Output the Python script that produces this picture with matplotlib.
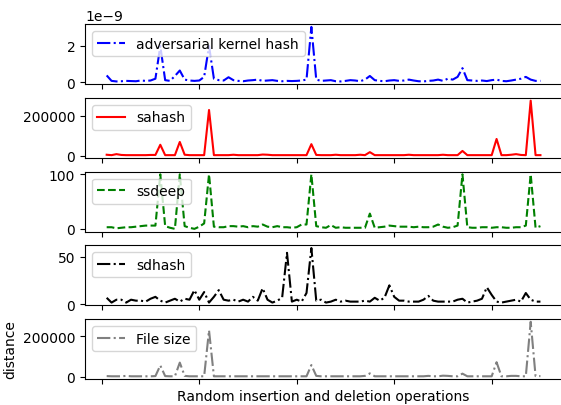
import numpy as np
import matplotlib
matplotlib.use("Agg")
import matplotlib.pyplot as plt

# operation index
ops = np.arange(1, 91)

# adversarial kernel hash distance
akh = np.array([0.38, 0.08, 0.05, 0.06, 0.08, 0.07, 0.06, 0.10, 0.08, 0.10,
                0.20, 2.00, 0.12, 0.08, 0.35, 0.65, 0.15, 0.10, 0.08, 0.10,
                0.30, 2.00, 0.20, 0.12, 0.10, 0.28, 0.12, 0.08, 0.06, 0.10,
                0.12, 0.15, 0.08, 0.10, 0.12, 0.08, 0.06, 0.08, 0.07, 0.08,
                0.10, 0.15, 3.05, 0.15, 0.08, 0.10, 0.12, 0.06, 0.05, 0.08,
                0.12, 0.10, 0.06, 0.15, 0.35, 0.12, 0.08, 0.06, 0.10, 0.12,
                0.08, 0.10, 0.15, 0.10, 0.06, 0.05, 0.08, 0.10, 0.15, 0.08,
                0.20, 0.15, 0.30, 0.78, 0.12, 0.10, 0.08, 0.10, 0.07, 0.12,
                0.15, 0.08, 0.06, 0.10, 0.15, 0.20, 0.30, 0.15, 0.08, 0.08]) * 1e-9

sahash = np.array([5000, 3000, 8000, 4000, 3000, 3000, 3000, 3000, 3000, 4000,
                   4000, 55000, 3000, 3000, 3000, 69000, 5000, 3000, 3000, 3000,
                   3000, 229000, 3000, 3000, 3000, 3000, 5000, 3000, 3000, 3000,
                   3000, 3000, 6000, 5000, 3000, 3000, 3000, 3000, 3000, 3000,
                   3000, 3000, 58000, 4000, 3000, 3000, 3000, 5000, 3000, 3000,
                   3000, 3000, 5000, 3000, 18000, 3000, 3000, 3000, 3000, 3000,
                   3000, 3000, 5000, 3000, 3000, 3000, 3000, 3000, 3000, 5000,
                   3000, 3000, 3000, 24000, 3000, 3000, 3000, 3000, 3000, 3000,
                   84000, 3000, 3000, 5000, 8000, 4000, 3000, 276000, 3000, 3000])

ssdeep = np.array([3, 3, 1, 2, 3, 3, 4, 5, 6, 6,
                   6, 100, 5, 2, 0, 100, 5, 2, 0, 4,
                   10, 100, 4, 3, 3, 5, 5, 4, 5, 3,
                   5, 4, 8, 4, 3, 5, 3, 3, 2, 3,
                   8, 8, 100, 5, 3, 2, 7, 2, 3, 2,
                   2, 2, 2, 2, 28, 2, 3, 4, 6, 5,
                   4, 4, 4, 3, 4, 3, 3, 4, 8, 4,
                   2, 3, 6, 100, 3, 2, 2, 3, 3, 2,
                   3, 3, 2, 2, 3, 3, 6, 100, 2, 5])

sdhash = np.array([7, 2, 5, 5, 2, 5, 4, 4, 3, 6,
                   8, 4, 2, 4, 6, 3, 6, 5, 15, 5,
                   13, 2, 8, 15, 5, 4, 5, 3, 5, 3,
                   8, 4, 17, 5, 2, 4, 7, 54, 3, 5,
                   3, 12, 59, 4, 5, 2, 3, 5, 3, 4,
                   3, 3, 3, 4, 3, 7, 4, 7, 20, 8,
                   4, 4, 3, 3, 3, 5, 9, 4, 3, 3,
                   3, 3, 5, 6, 2, 3, 4, 6, 18, 10,
                   3, 2, 3, 4, 5, 3, 12, 5, 3, 3])

filesize = np.array([4000, 3000, 3000, 3000, 5000, 3000, 3000, 3000, 3000, 3000,
                     4000, 56000, 4000, 3000, 3000, 70000, 5000, 3000, 3000, 3000,
                     3000, 228000, 3000, 3000, 3000, 3000, 3000, 3000, 3000, 3000,
                     3000, 3000, 3000, 3000, 3000, 3000, 3000, 3000, 3000, 3000,
                     3000, 3000, 58000, 5000, 3000, 3000, 3000, 3000, 3000, 3000,
                     3000, 3000, 3000, 5000, 17000, 3000, 3000, 3000, 3000, 3000,
                     3000, 3000, 3000, 3000, 3000, 3000, 5000, 3000, 3000, 6000,
                     5000, 3000, 3000, 16000, 3000, 3000, 3000, 3000, 3000, 3000,
                     72000, 3000, 3000, 5000, 5000, 3000, 3000, 270000, 4000, 4000])

series = [
    (akh, "b", "-.", "adversarial kernel hash"),
    (sahash, "r", "-", "sahash"),
    (ssdeep, "g", "--", "ssdeep"),
    (sdhash, "k", "-.", "sdhash"),
    (filesize, "grey", "-.", "File size"),
]

fig, axes = plt.subplots(5, 1, sharex=True, figsize=(5.61, 4.06), dpi=100)
fig.subplots_adjust(left=0.1515, right=1.002, top=0.938, bottom=0.064, hspace=0.229)

for ax, (vals, col, ls, name) in zip(axes, series):
    ax.plot(ops, vals, color=col, linestyle=ls, label=name)
    ax.legend(loc="upper left")
    ax.tick_params(axis="x", labelbottom=False)

axes[-1].set_ylabel("distance")
axes[-1].set_xlabel("Random insertion and deletion operations")

fig.savefig("out.png", dpi=100)
